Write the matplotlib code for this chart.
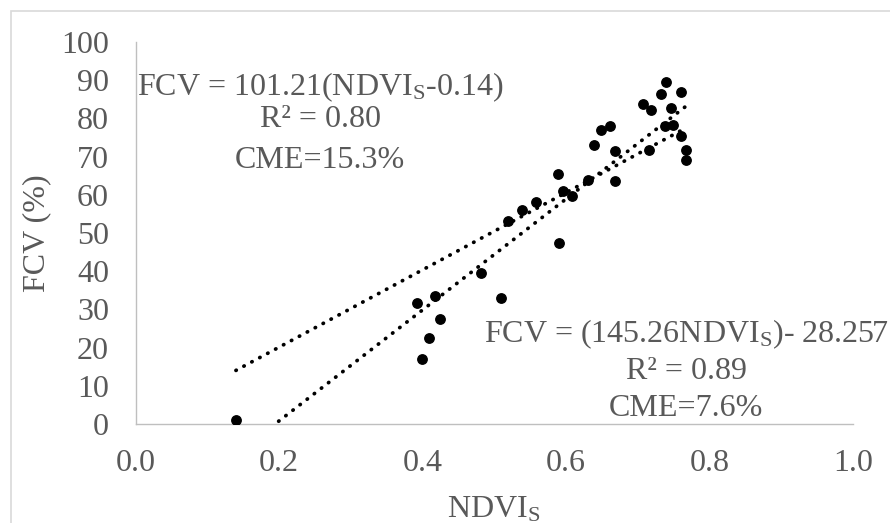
import numpy as np
import matplotlib
matplotlib.use("Agg")
import matplotlib.pyplot as plt
from matplotlib.patches import Rectangle

# datos
ndvi = [0.140, 0.393, 0.399, 0.409, 0.418, 0.424, 0.481, 0.509, 0.519, 0.538,
        0.558, 0.589, 0.590, 0.596, 0.609, 0.630, 0.639, 0.649, 0.661, 0.668,
        0.668, 0.707, 0.716, 0.719, 0.732, 0.739, 0.738, 0.746, 0.749, 0.760,
        0.760, 0.767, 0.767]
fcv = [1.0, 31.8, 17.1, 22.4, 33.4, 27.6, 39.4, 33.1, 53.2, 56.0,
       58.2, 65.4, 47.5, 61.1, 59.7, 64.0, 73.0, 77.0, 78.1, 71.4,
       63.7, 83.9, 71.7, 82.2, 86.3, 89.5, 78.0, 82.8, 78.4, 87.0,
       75.4, 71.8, 69.0]

# lineas de tendencia (pendiente, intercepto)
fit1 = (101.21, -0.14)
fit2 = (145.26, -28.257)

x_ticks = [0.0, 0.2, 0.4, 0.6, 0.8, 1.0]
y_ticks = [0, 10, 20, 30, 40, 50, 60, 70, 80, 90, 100]

eq1 = ["FCV = 101.21(NDVI$_\\mathregular{S}$-0.14)", "R\u00b2 = 0.80", "CME=15.3%"]
eq2 = ["FCV = (145.26NDVI$_\\mathregular{S}$)- 28.257", "R\u00b2 = 0.89", "CME=7.6%"]

plt.rcParams['font.family'] = ['Liberation Serif', 'DejaVu Serif']
plt.rcParams['mathtext.fontset'] = 'custom'
plt.rcParams['mathtext.rm'] = 'Liberation Serif'
plt.rcParams['mathtext.it'] = 'Liberation Serif:italic'

gris = '#595959'
W, H = 890, 523
fs = 23

fig = plt.figure(figsize=(W / 100, H / 100), dpi=100)
ax = fig.add_axes([135.5 / W, (H - 424) / H, 717.5 / W, (424 - 42) / H])

# borde del area del grafico
fig.patches.append(Rectangle((11 / W, -0.1), 1.2, (H - 11) / H + 0.1,
                             transform=fig.transFigure, fill=False,
                             edgecolor='#d9d9d9', linewidth=1.2))

ax.scatter(ndvi, fcv, s=46, color='black', zorder=3)

xs = np.linspace(min(ndvi), max(ndvi), 50)
for m, b in (fit1, fit2):
    ax.plot(xs, m * xs + b, color='black', linewidth=2.7,
            linestyle=(0, (0.1, 2.3)), dash_capstyle='round', zorder=2)

ax.set_xlim(0, 1.0)
ax.set_ylim(0, 100)
ax.set_xticks(x_ticks)
ax.set_xticklabels([f"{v:.1f}" for v in x_ticks])
ax.set_yticks(y_ticks)
ax.tick_params(length=0, labelsize=fs, labelcolor=gris)
ax.tick_params(axis='x', pad=18)
ax.tick_params(axis='y', pad=19)
for s in ['top', 'right']:
    ax.spines[s].set_visible(False)
for s in ['left', 'bottom']:
    ax.spines[s].set_color('#bfbfbf')
    ax.spines[s].set_linewidth(1.0)

fig.text(37 / W, 1 - 233 / H, "FCV (%)", rotation=90, ha='center', va='center',
         fontsize=fs, color=gris)
fig.text(494 / W, 1 - 517 / H, "NDVI$_\\mathregular{S}$", ha='center', va='baseline',
         fontsize=fs, color=gris)

# ecuaciones
for txt, yb in zip(eq1, [95, 126.7, 168]):
    fig.text(320 / W, 1 - yb / H, txt, ha='center', va='baseline',
             fontsize=fs, color=gris)
for txt, yb in zip(eq2, [342, 379, 415.7]):
    fig.text(686 / W, 1 - yb / H, txt, ha='center', va='baseline',
             fontsize=fs, color=gris)

fig.savefig("out.png", dpi=100)
